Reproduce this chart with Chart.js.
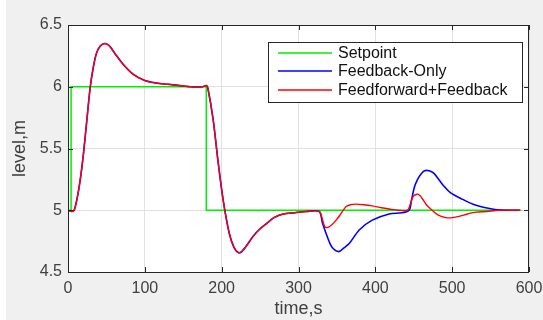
<!DOCTYPE html>
<html>
<head>
<meta charset="utf-8">
<script src="https://cdn.jsdelivr.net/npm/chart.js@4.4.1/dist/chart.umd.min.js"></script>
<style>
    html, body { margin: 0; padding: 0; background: #fff; }
    #wrap { width: 543px; height: 320px; position: relative; }
</style>
</head>
<body>
<div id="wrap"><canvas id="levelChart" width="543" height="320"></canvas></div>
<script>
// Setpoint step profile
const setTime = [0, 4, 4, 180, 180, 590];
const setLevel = [5, 5, 6, 6, 5, 5];

// Shared response up to the disturbance at ~327 s
const commonTime = [0, 5, 8, 12, 16, 20, 25, 29, 33, 37, 42, 48, 54, 61, 72, 85, 100, 115, 130, 145, 160, 175, 180,
    182, 189, 195, 202, 210, 216, 221, 225, 232, 241, 250, 258, 268, 280, 295, 310, 327];
const commonLevel = [5.0, 4.99, 5.0, 5.1, 5.25, 5.45, 5.76, 6.0, 6.16, 6.27, 6.33, 6.35, 6.33, 6.27, 6.18, 6.10, 6.05, 6.03, 6.02, 6.01, 6.0, 6.0, 6.01,
    5.99, 5.73, 5.41, 5.08, 4.81, 4.70, 4.66, 4.66, 4.71, 4.79, 4.85, 4.89, 4.94, 4.97, 4.98, 4.99, 4.99];

// Feedback-only after the disturbance
const fbTime = [331, 336, 341, 345, 352, 358, 366, 379, 396, 418, 435, 444, 447, 451, 455, 459, 464, 470, 476, 483, 490, 498, 513, 531, 552, 570, 588];
const fbLevel = [4.90, 4.81, 4.73, 4.69, 4.665, 4.69, 4.73, 4.84, 4.92, 4.97, 4.98, 5.0, 5.08, 5.19, 5.25, 5.29, 5.32, 5.32, 5.30, 5.245, 5.19, 5.14, 5.09, 5.04, 5.01, 5.0, 5.0];

// Feedforward+Feedback after the disturbance
const ffTime = [331, 334, 338, 343, 349, 355, 362, 368, 375, 385, 396, 408, 418, 430, 442, 445, 449, 454, 458, 461, 467, 474, 482, 492, 500, 509, 520, 531, 545, 560, 588];
const ffLevel = [4.93, 4.87, 4.86, 4.88, 4.92, 4.97, 5.03, 5.045, 5.05, 5.045, 5.035, 5.02, 5.01, 5.0, 5.0, 5.04, 5.11, 5.13, 5.12, 5.095, 5.04, 5.0, 4.96, 4.94, 4.94, 4.95, 4.97, 4.985, 4.99, 5.0, 5.0];

const xTicks = [0, 100, 200, 300, 400, 500, 600];
const yTicks = [4.5, 5, 5.5, 6, 6.5];

const seriesNames = ['Setpoint', 'Feedback-Only', 'Feedforward+Feedback'];
const seriesColors = ['#00ee00', '#0000ff', '#ff0000'];

const toPoints = (t, v) => t.map((x, i) => ({ x: x, y: v[i] }));

const FONT = "'Liberation Sans', Arial, sans-serif";
const AXIS_INK = '#262626';

// Figure background, plot background, box, inward ticks and legend
const figurePlugin = {
    id: 'figure',
    beforeDraw(chart) {
        const { ctx, chartArea: a } = chart;
        ctx.save();
        ctx.fillStyle = '#ffffff';
        ctx.fillRect(0, 0, chart.width, chart.height);
        ctx.fillStyle = '#f0f0f0';
        ctx.fillRect(6, 0, chart.width - 6, chart.height);
        ctx.fillStyle = '#ffffff';
        ctx.fillRect(a.left, a.top, a.right - a.left, a.bottom - a.top);
        ctx.restore();
    },
    afterDatasetsDraw(chart) {
        const { ctx, chartArea: a, scales } = chart;
        ctx.save();
        ctx.strokeStyle = AXIS_INK;
        ctx.lineWidth = 1;
        ctx.strokeRect(a.left + 0.5, a.top + 0.5, a.right - a.left - 1, a.bottom - a.top);

        const len = 5;
        ctx.beginPath();
        xTicks.forEach(t => {
            const px = Math.round(scales.x.getPixelForValue(t)) + 0.5;
            ctx.moveTo(px, a.bottom); ctx.lineTo(px, a.bottom - len);
            ctx.moveTo(px, a.top); ctx.lineTo(px, a.top + len);
        });
        yTicks.forEach(v => {
            const py = Math.round(scales.y.getPixelForValue(v)) + 0.5;
            ctx.moveTo(a.left, py); ctx.lineTo(a.left + len, py);
            ctx.moveTo(a.right, py); ctx.lineTo(a.right - len, py);
        });
        ctx.stroke();

        // legend box
        const bx = 268, by = 42, bw = 254, bh = 60;
        ctx.fillStyle = '#ffffff';
        ctx.fillRect(bx, by, bw, bh);
        ctx.strokeStyle = AXIS_INK;
        ctx.strokeRect(bx + 0.5, by + 0.5, bw, bh);
        ctx.font = '16px ' + FONT;
        ctx.textBaseline = 'middle';
        ctx.textAlign = 'left';
        const rows = [53, 71, 90];
        seriesNames.forEach((name, i) => {
            ctx.beginPath();
            ctx.strokeStyle = seriesColors[i];
            ctx.lineWidth = 1.5;
            ctx.moveTo(278, rows[i]);
            ctx.lineTo(332, rows[i]);
            ctx.stroke();
            ctx.fillStyle = '#111111';
            ctx.fillText(name, 338, rows[i] + 1);
        });
        ctx.restore();
    }
};

const ctx = document.getElementById('levelChart').getContext('2d');
new Chart(ctx, {
    type: 'line',
    data: {
        datasets: [
            {
                label: seriesNames[0],
                data: toPoints(setTime, setLevel),
                borderColor: seriesColors[0],
                borderWidth: 1.5,
                order: 2
            },
            {
                label: seriesNames[1],
                data: toPoints(commonTime.concat(fbTime), commonLevel.concat(fbLevel)),
                borderColor: seriesColors[1],
                borderWidth: 1.6,
                tension: 0.3,
                order: 1
            },
            {
                label: seriesNames[2],
                data: toPoints(commonTime.concat(ffTime), commonLevel.concat(ffLevel)),
                borderColor: seriesColors[2],
                borderWidth: 1.4,
                tension: 0.3,
                order: 0
            }
        ]
    },
    options: {
        responsive: false,
        animation: false,
        elements: { point: { radius: 0 } },
        layout: { padding: { left: 0, right: 14, top: 25, bottom: 0 } },
        plugins: {
            legend: { display: false },
            tooltip: { enabled: false }
        },
        scales: {
            x: {
                type: 'linear',
                min: 0,
                max: 600,
                afterFit: s => { s.height = 48; s.paddingLeft = 0; s.paddingRight = 0; },
                afterBuildTicks: s => { s.ticks = xTicks.map(v => ({ value: v })); },
                ticks: {
                    color: '#404040',
                    padding: 7,
                    font: { family: FONT, size: 16 }
                },
                grid: { color: '#e0e0e0', drawTicks: false },
                border: { display: false },
                title: {
                    display: true,
                    text: 'time,s',
                    color: '#404040',
                    padding: { top: 0, bottom: 0 },
                    font: { family: FONT, size: 18, lineHeight: 1.2 }
                }
            },
            y: {
                min: 4.5,
                max: 6.5,
                afterFit: s => { s.width = 68; s.paddingTop = 0; s.paddingBottom = 0; },
                afterBuildTicks: s => { s.ticks = yTicks.map(v => ({ value: v })); },
                ticks: {
                    color: '#404040',
                    padding: 6,
                    font: { family: FONT, size: 16 },
                    callback: v => String(v)
                },
                grid: { color: '#e0e0e0', drawTicks: false },
                border: { display: false },
                title: {
                    display: true,
                    text: 'level,m',
                    color: '#404040',
                    padding: { top: 9, bottom: 0 },
                    font: { family: FONT, size: 18, lineHeight: 1.2 }
                }
            }
        }
    },
    plugins: [figurePlugin]
});
</script>
</body>
</html>
